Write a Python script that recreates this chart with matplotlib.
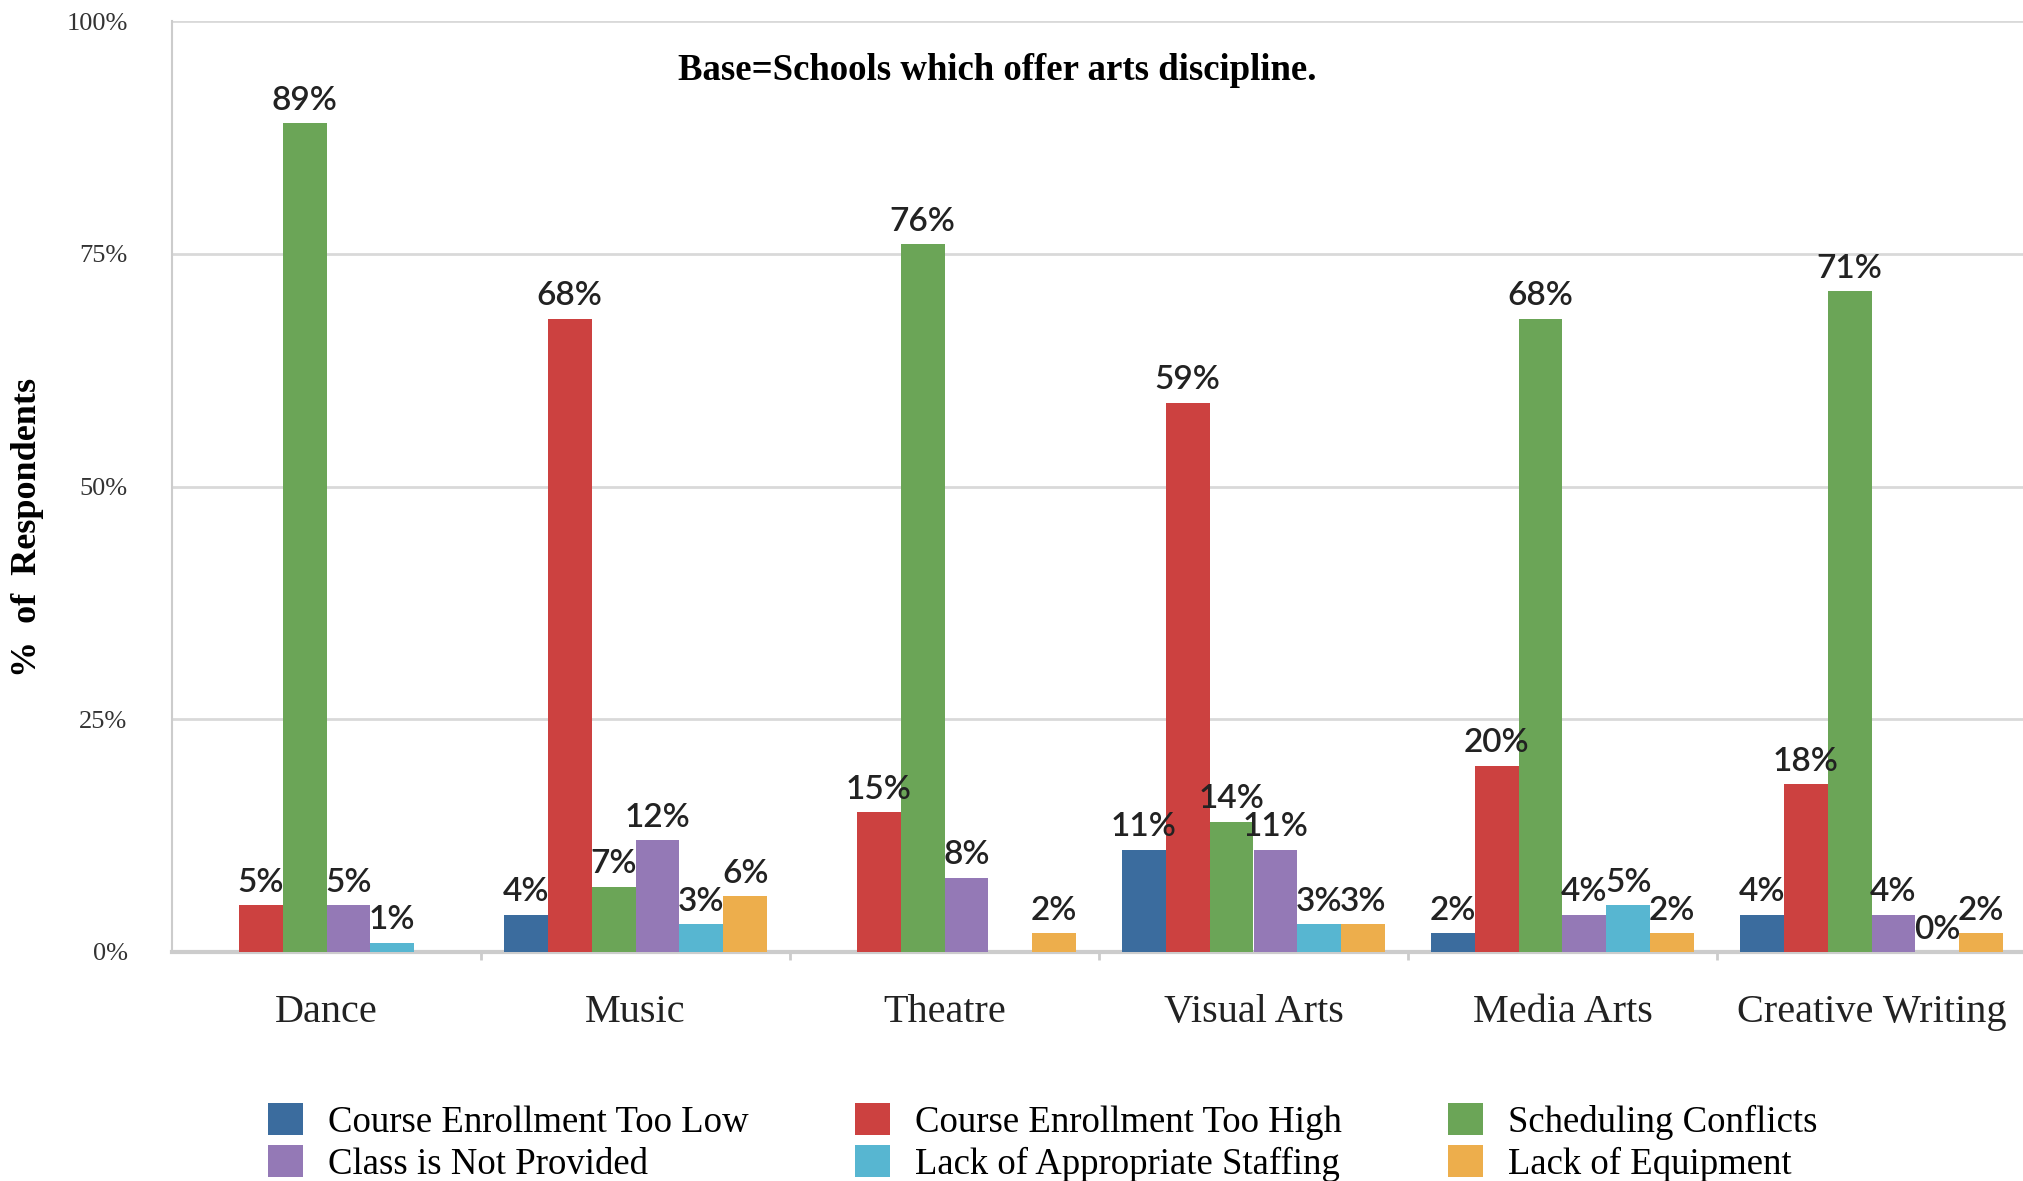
import matplotlib.pyplot as plt
import numpy as np

categories = ['Dance', 'Music', 'Theatre', 'Visual Arts', 'Media Arts', 'Creative Writing']
series_names = ['Course Enrollment Too Low', 'Course Enrollment Too High', 'Scheduling Conflicts',
                'Class is Not Provided', 'Lack of Appropriate Staffing', 'Lack of Equipment']
# None = no bar / no label in the original
too_low = [None, 4, None, 11, 2, 4]
too_high = [5, 68, 15, 59, 20, 18]
scheduling = [89, 7, 76, 14, 68, 71]
not_provided = [5, 12, 8, 11, 4, 4]
staffing = [1, 3, None, 3, 5, 0]
equipment = [None, 6, 2, 3, 2, 2]
y_ticks = [0, 25, 50, 75, 100]
y_tick_labels = ['0%', '25%', '50%', '75%', '100%']

colors = ['#3b6c9e', '#cc4140', '#6ba557', '#9479b6', '#57b6d1', '#edae4c']
all_series = [too_low, too_high, scheduling, not_provided, staffing, equipment]

W, H = 2024, 1181
fig = plt.figure(figsize=(W / 100, H / 100), dpi=100)
ax = fig.add_axes([172 / W, (H - 952) / H, (2026 - 172) / W, (952 - 21) / H])

x = np.arange(len(categories))
bw = 0.142
handles = []
for i, (vals, col) in enumerate(zip(all_series, colors)):
    offs = (i - 2.5) * bw
    xs = [xi + offs for xi, v in zip(x, vals) if v is not None]
    hs = [v for v in vals if v is not None]
    bars = ax.bar(xs, hs, width=bw, color=col, label=series_names[i], zorder=3)
    handles.append(bars)
    for xx, h in zip(xs, hs):
        ax.text(xx, h + 0.8, f'{h}%', ha='center', va='bottom', fontsize=24,
                family='Lato', fontweight='semibold', color='#222222', zorder=4)

ax.set_xlim(-0.5, len(categories) - 0.5)
ax.set_ylim(0, 100)
ax.set_yticks(y_ticks)
ax.set_yticklabels(y_tick_labels, family='Liberation Serif', fontsize=19, color='#333333')
ax.tick_params(axis='y', length=0, pad=32)
ax.yaxis.grid(True, color='#d9d9d9', lw=2, zorder=0)
ax.set_axisbelow(True)

ax.set_xticks(x)
ax.set_xticklabels(categories, family='Liberation Serif', fontsize=29, color='#222222')
ax.set_xticks(np.arange(0.5, len(categories) - 0.5, 1), minor=True)
ax.tick_params(axis='x', which='major', length=0, pad=30)
ax.tick_params(axis='x', which='minor', length=6, color='#cccccc', width=2)

for s in ['top', 'right']:
    ax.spines[s].set_visible(False)
ax.spines['left'].set_color('#cccccc')
ax.spines['left'].set_linewidth(1.5)
ax.spines['bottom'].set_color('#cccccc')
ax.spines['bottom'].set_linewidth(3)

fig.text(997 / W, 1 - 70 / H, 'Base=Schools which offer arts discipline.', ha='center', va='center',
         family='Liberation Serif', fontweight='bold', fontsize=26.5)
fig.text(28 / W, 1 - 527 / H, '%  of  Respondents', rotation=90, ha='center', va='center',
         family='Liberation Serif', fontweight='bold', fontsize=26)

order = [0, 3, 1, 4, 2, 5]
fig.legend([handles[k] for k in order], [series_names[k] for k in order],
           loc='upper left', bbox_to_anchor=(268 / W, 1 - 1103 / H), ncol=3, frameon=False,
           prop={'family': 'Liberation Serif', 'size': 26.5},
           handlelength=0.95, handleheight=0.95, handletextpad=0.67,
           columnspacing=2.9, labelspacing=0.16, borderpad=0, borderaxespad=0)

fig.savefig('out.png', dpi=100)
